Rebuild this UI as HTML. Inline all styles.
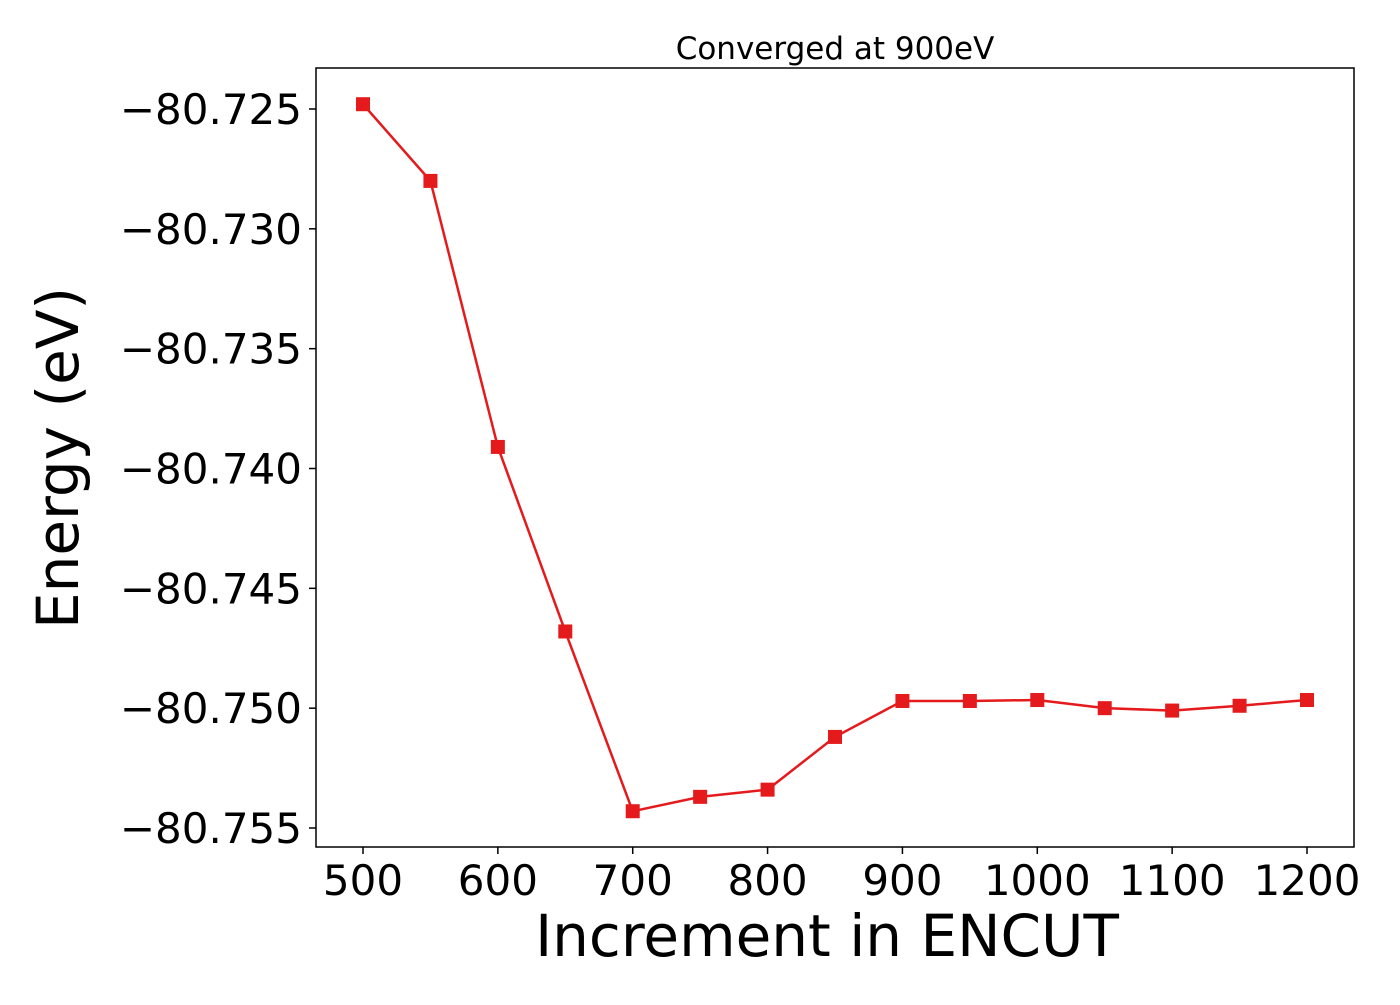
<!DOCTYPE html>
<html><head><meta charset="utf-8"><style>
body{margin:0;background:#fff}
svg text{font-family:"DejaVu Sans","Liberation Sans",sans-serif;fill:#000}
</style></head><body>
<svg id="chart" width="1400" height="1000" xmlns="http://www.w3.org/2000/svg">
<rect x="0" y="0" width="1400" height="1000" fill="#fff"/>
<text x="835" y="59" font-size="31" text-anchor="middle">Converged at 900eV</text>
<g id="xticks"></g>
<g id="yticks"></g>
<g id="series"></g>
<rect x="316" y="68" width="1038" height="779" fill="none" stroke="#000" stroke-width="1.5"/>
<text x="827" y="956" font-size="58" text-anchor="middle">Increment in ENCUT</text>
<text transform="translate(78,458) rotate(-90)" font-size="58" text-anchor="middle">Energy (eV)</text>
</svg>
<script>
const encut = [500,550,600,650,700,750,800,850,900,950,1000,1050,1100,1150,1200];
const energy = [-80.7248,-80.7280,-80.7391,-80.7468,-80.7543,-80.7537,-80.7534,-80.7512,-80.7497,-80.7497,-80.74966,-80.7500,-80.7501,-80.7499,-80.74966];
const xTicks = [500,600,700,800,900,1000,1100,1200];
const yTicks = [-80.725,-80.730,-80.735,-80.740,-80.745,-80.750,-80.755];
const ns='http://www.w3.org/2000/svg';
function sx(v){return 363+(v-500)*(1307-363)/700;}
function sy(v){return 109+(-80.725-v)*(828-109)/0.030;}
function mk(t,a,p){const e=document.createElementNS(ns,t);for(const k in a)e.setAttribute(k,a[k]);p.appendChild(e);return e;}
const gx=document.getElementById('xticks'),gy=document.getElementById('yticks'),gs=document.getElementById('series');
xTicks.forEach(v=>{
 const l=mk('line',{x1:sx(v),x2:sx(v),y1:847,y2:854,stroke:'#000','stroke-width':1.5},gx);
 
 
 const t=mk('text',{x:sx(v),y:895,'font-size':42,'text-anchor':'middle'},gx);
 t.textContent=v;
 
 
});
yTicks.forEach(v=>{
 const l=mk('line',{x1:309,x2:316,y1:sy(v),y2:sy(v),stroke:'#000','stroke-width':1.5},gy);
 
 
 const t=mk('text',{x:302,y:sy(v)+15,'font-size':42,'text-anchor':'end'},gy);
 t.textContent='\u2212'+Math.abs(v).toFixed(3);
 
 
});
const pl=mk('polyline',{points:encut.map((x,i)=>sx(x)+','+sy(energy[i])).join(' '),fill:'none',stroke:'#e41a1c','stroke-width':2.5},gs);


encut.forEach((x,i)=>{
 const r=mk('rect',{x:sx(x)-7,y:sy(energy[i])-7,width:14,height:14,fill:'#e41a1c'},gs);
 
 
});
</script>
</body></html>
